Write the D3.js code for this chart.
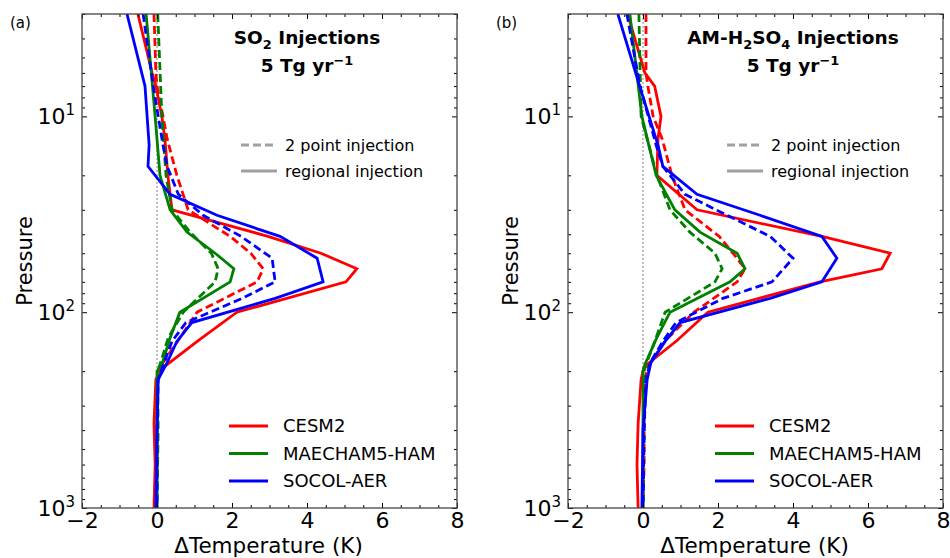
<!DOCTYPE html>
<html>
<head>
<meta charset="utf-8">
<script src="https://cdn.jsdelivr.net/npm/d3@7"></script>
<style>
body { margin: 0; background: #fff; }
svg { font-family: "DejaVu Sans", sans-serif; }
</style>
</head>
<body>
<div id="chart"></div>
<script>
// pressure levels (hPa) per model
const cesmLev  = [3, 6, 7, 10, 13, 20, 30, 41, 50, 60, 70, 100, 140, 190, 220, 370, 600, 1000];
const echamLev = [3, 10, 20, 30, 39, 50, 60, 70, 100, 135, 185, 200, 400, 1000];
const socolLev = [3, 7, 14, 18, 25, 32, 41, 53, 70, 85, 113, 141, 181, 221, 400, 1000];

// temperature change (K), (a) SO2 injections
const cesmSO2Point  = [-0.08, -0.03, 0.0, 0.16, 0.27, 0.53, 0.83, 1.95, 2.5, 2.83, 2.67, 1.07, 0.56, 0.08, 0.0, 0.0, 0.0, -0.03];
const cesmSO2Reg    = [-0.51, -0.13, -0.03, 0.13, 0.21, 0.29, 0.4, 2.96, 4.37, 5.33, 5.04, 2.13, 1.09, 0.19, -0.03, -0.08, -0.05, -0.08];
const echamSO2Point = [0.02, 0.13, 0.24, 0.4, 0.88, 1.45, 1.63, 1.55, 0.7, 0.3, 0.08, 0.02, 0.03, 0.0];
const echamSO2Reg   = [-0.29, -0.05, 0.08, 0.35, 0.8, 1.55, 2.05, 1.95, 0.61, 0.35, 0.13, 0.0, 0.0, 0.0];
const socolSO2Point = [-0.37, -0.1, 0.16, 0.27, 0.57, 1.23, 2.24, 3.07, 3.15, 2.27, 0.77, 0.4, 0.19, 0.03, 0.0, 0.0];
const socolSO2Reg   = [-0.8, -0.32, -0.21, -0.24, 0.35, 1.6, 3.28, 4.27, 4.43, 3.15, 0.93, 0.53, 0.27, 0.03, 0.0, -0.03];

// (b) AM-H2SO4 injections
const cesmH2SO4Point  = [0.08, 0.08, 0.13, 0.27, 0.51, 0.77, 1.12, 2.03, 2.4, 2.72, 2.51, 1.36, 0.59, 0.13, 0.05, 0.03, 0.03, 0.0];
const cesmH2SO4Reg    = [-0.41, 0.05, 0.31, 0.48, 0.4, 0.37, 1.44, 4.77, 6.59, 6.37, 4.72, 1.73, 0.9, 0.03, -0.05, -0.13, -0.16, -0.13];
const echamH2SO4Point = [-0.11, -0.05, 0.37, 0.72, 1.25, 1.92, 2.11, 1.92, 0.59, 0.35, 0.08, 0.03, 0.03, 0.0];
const echamH2SO4Reg   = [-0.35, -0.03, 0.35, 0.85, 1.52, 2.51, 2.72, 2.32, 0.72, 0.37, 0.05, 0.0, 0.0, 0.0];
const socolH2SO4Point = [-0.43, -0.08, 0.35, 0.53, 1.12, 2.24, 3.39, 4.0, 3.44, 2.13, 0.88, 0.53, 0.19, 0.08, 0.03, 0.0];
const socolH2SO4Reg   = [-0.67, -0.09, 0.4, 0.53, 1.44, 3.12, 4.77, 5.17, 4.77, 3.39, 0.99, 0.59, 0.21, 0.11, 0.0, -0.03];

const models = ["CESM2", "MAECHAM5-HAM", "SOCOL-AER"];
const modelColors = ["#ff0000", "#008000", "#0000ff"];
const modelLevels = [cesmLev, echamLev, socolLev];
const styleLabels = ["2 point injection", "regional injection"];

const xTicks = [-2, 0, 2, 4, 6, 8];
const yTicks = [10, 100, 1000];

const panels = [
    { tag: "(a)", title: [[["SO"], ["2", "sub"], [" Injections"]], [["5 Tg yr"], ["\u22121", "sup"]]],
      point: [cesmSO2Point, echamSO2Point, socolSO2Point],
      reg: [cesmSO2Reg, echamSO2Reg, socolSO2Reg] },
    { tag: "(b)", title: [[["AM-H"], ["2", "sub"], ["SO"], ["4", "sub"], [" Injections"]], [["5 Tg yr"], ["\u22121", "sup"]]],
      point: [cesmH2SO4Point, echamH2SO4Point, socolH2SO4Point],
      reg: [cesmH2SO4Reg, echamH2SO4Reg, socolH2SO4Reg] }
];

const W = 950, H = 558;
const lefts = [82, 568];
const pw = 375, plotTop = 14, plotBottom = 508;

const svg = d3.select("#chart").append("svg")
    .attr("width", W)
    .attr("height", H);

function richText(sel, parts, size) {
    let shift = 0;
    parts.forEach(function(p) {
        let target = 0;
        const t = sel.append("tspan").text(p[0]);
        if (p[1] === "sub") { t.attr("font-size", size * 0.7); target = size * 0.25; }
        else if (p[1] === "sup") { t.attr("font-size", size * 0.7); target = -size * 0.4; }
        t.attr("dy", target - shift);
        shift = target;
    });
}

panels.forEach(function(panel, pi) {
    const x0 = lefts[pi];
    const x = d3.scaleLinear().domain([-2, 8]).range([x0, x0 + pw]);
    const y = d3.scaleLog().domain([3, 1000]).range([plotTop, plotBottom]);

    const g = svg.append("g");

    // zero line
    g.append("line")
        .attr("x1", x(0)).attr("x2", x(0))
        .attr("y1", plotTop).attr("y2", plotBottom)
        .attr("stroke", "#a0a0a0")
        .attr("stroke-width", 1.3)
        .attr("stroke-dasharray", "2,2");

    const line = d3.line()
        .x(function(d) { return x(d[1]); })
        .y(function(d) { return y(d[0]); });

    const clip = "clip" + pi;
    svg.append("clipPath").attr("id", clip)
        .append("rect").attr("x", x0).attr("y", plotTop).attr("width", pw).attr("height", plotBottom - plotTop);

    const lines = g.append("g").attr("clip-path", "url(#" + clip + ")");
    models.forEach(function(m, mi) {
        const lev = modelLevels[mi];
        lines.append("path")
            .datum(d3.zip(lev, panel.point[mi]))
            .attr("d", line)
            .attr("fill", "none")
            .attr("stroke", modelColors[mi])
            .attr("stroke-width", 2.8)
            .attr("stroke-dasharray", "8,4");
        lines.append("path")
            .datum(d3.zip(lev, panel.reg[mi]))
            .attr("d", line)
            .attr("fill", "none")
            .attr("stroke", modelColors[mi])
            .attr("stroke-width", 2.8);
    });

    // axes, ticks inward on all sides
    const minorX = d3.range(-2, 8.01, 0.5).filter(function(v) { return v % 2 !== 0; });
    const minorY = [];
    [1, 10, 100].forEach(function(dec) {
        d3.range(2, 10).forEach(function(k) {
            const v = k * dec;
            if (v >= 3 && v < 1000) minorY.push(v);
        });
    });

    const fmtX = function(d) { return d < 0 ? "\u2212" + Math.abs(d) : d; };

    g.append("g").attr("transform", "translate(0," + plotBottom + ")")
        .call(d3.axisBottom(x).tickValues(xTicks).tickSize(-5).tickPadding(4).tickFormat(fmtX));
    g.append("g").attr("transform", "translate(0," + plotBottom + ")")
        .call(d3.axisBottom(x).tickValues(minorX).tickSize(-3).tickFormat(""));
    g.append("g").attr("transform", "translate(0," + plotTop + ")")
        .call(d3.axisTop(x).tickValues(xTicks).tickSize(-5).tickFormat(""));
    g.append("g").attr("transform", "translate(0," + plotTop + ")")
        .call(d3.axisTop(x).tickValues(minorX).tickSize(-3).tickFormat(""));

    const yAx = g.append("g").attr("transform", "translate(" + x0 + ",0)")
        .call(d3.axisLeft(y).tickValues(yTicks).tickSize(-5).tickPadding(7).tickFormat(""));
    g.append("g").attr("transform", "translate(" + x0 + ",0)")
        .call(d3.axisLeft(y).tickValues(minorY).tickSize(-3).tickFormat(""));
    g.append("g").attr("transform", "translate(" + (x0 + pw) + ",0)")
        .call(d3.axisRight(y).tickValues(yTicks).tickSize(-5).tickFormat(""));
    g.append("g").attr("transform", "translate(" + (x0 + pw) + ",0)")
        .call(d3.axisRight(y).tickValues(minorY).tickSize(-3).tickFormat(""));

    yAx.selectAll(".tick text").each(function(d) {
        const t = d3.select(this);
        t.text(null);
        t.append("tspan").text("10");
        t.append("tspan").text(Math.round(Math.log10(d)))
            .attr("font-size", 15).attr("dy", -9);
    });

    g.selectAll(".domain").remove();
    g.selectAll(".tick line").attr("stroke", "#000");
    g.selectAll(".tick text")
        .attr("font-family", "DejaVu Sans")
        .attr("font-size", 22)
        .attr("fill", "#000");

    // frame
    g.append("rect")
        .attr("x", x0).attr("y", plotTop)
        .attr("width", pw).attr("height", plotBottom - plotTop)
        .attr("fill", "none")
        .attr("stroke", "#444")
        .attr("stroke-width", 1.3);

    // axis labels
    g.append("text")
        .attr("x", x0 + pw / 2 - 1).attr("y", 553)
        .attr("text-anchor", "middle")
        .attr("font-size", 21.5)
        .text("\u0394Temperature (K)");
    g.append("text")
        .attr("transform", "translate(" + (x0 - 50) + "," + ((plotTop + plotBottom) / 2) + ") rotate(-90)")
        .attr("text-anchor", "middle")
        .attr("font-size", 21)
        .text("Pressure");

    // panel tag
    g.append("text")
        .attr("x", x0 - 72).attr("y", 28)
        .attr("font-size", 15)
        .text(panel.tag);

    // title
    panel.title.forEach(function(parts, li) {
        const t = g.append("text")
            .attr("x", x(4)).attr("y", 44 + li * 28)
            .attr("text-anchor", "middle")
            .attr("font-size", 18.5)
            .attr("font-weight", "bold");
        richText(t, parts, 18.5);
    });

    // line style legend
    styleLabels.forEach(function(lab, i) {
        const yy = 145 + i * 26;
        g.append("line")
            .attr("x1", x0 + 159).attr("x2", x0 + 195)
            .attr("y1", yy).attr("y2", yy)
            .attr("stroke", "#a0a0a0")
            .attr("stroke-width", 2.8)
            .attr("stroke-dasharray", i === 0 ? "8,4" : null);
        g.append("text")
            .attr("x", x0 + 203).attr("y", yy)
            .attr("dy", "0.35em")
            .attr("font-size", 16)
            .text(lab);
    });

    // model legend
    models.forEach(function(m, i) {
        const yy = 426 + i * 27.5;
        g.append("line")
            .attr("x1", x0 + 147).attr("x2", x0 + 186)
            .attr("y1", yy).attr("y2", yy)
            .attr("stroke", modelColors[i])
            .attr("stroke-width", 2.8);
        g.append("text")
            .attr("x", x0 + 201).attr("y", yy)
            .attr("dy", "0.35em")
            .attr("font-size", 18)
            .text(m);
    });
});
</script>
</body>
</html>
